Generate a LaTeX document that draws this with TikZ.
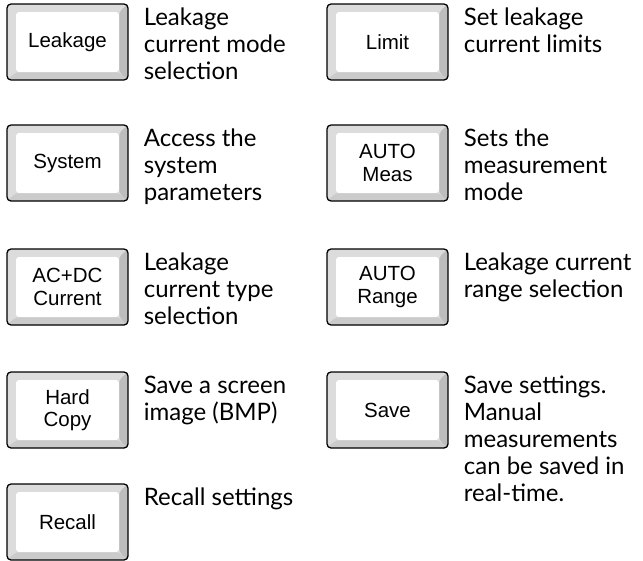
\documentclass[tikz,border=0pt]{standalone}
\usepackage{fontspec}
\setmainfont{Lato}
\newfontfamily\keyfont{Liberation Sans}
\usetikzlibrary{positioning,calc}
\definecolor{keytop}{HTML}{DCDCDC}
\definecolor{keyright}{HTML}{BDBDBD}
\definecolor{keybottom}{HTML}{CBCBCB}

\tikzset{
  keybtn/.style={rectangle,rounded corners=4pt,draw=black,line width=1.3pt,
    fill=keytop,minimum width=121pt,minimum height=76pt,inner sep=0pt,
    align=center,font=\keyfont\fontsize{20.5}{22.5}\selectfont,
    path picture={
      % right and bottom bevel, then the white key face
      \fill[keyright] (path picture bounding box.north east) -- (path picture bounding box.south east)
        -- ([shift={(-9pt,8pt)}]path picture bounding box.south east)
        -- ([shift={(-9pt,-8pt)}]path picture bounding box.north east) -- cycle;
      \fill[keybottom] (path picture bounding box.south west) -- (path picture bounding box.south east)
        -- ([shift={(-9pt,8pt)}]path picture bounding box.south east)
        -- ([shift={(9pt,8pt)}]path picture bounding box.south west) -- cycle;
      \fill[white,rounded corners=3pt] ([shift={(9pt,-8pt)}]path picture bounding box.north west)
        rectangle ([shift={(-9pt,8pt)}]path picture bounding box.south east);
    }},
  keydesc/.style={anchor=north west,inner sep=0pt,align=left,
    font=\fontsize{24}{27}\selectfont}
}

\begin{document}
\begin{tikzpicture}[x=1pt,y=-1pt]
\useasboundingbox (0,0) rectangle (643,560);
% left column of keys
\foreach \n/\yy/\lab/\desc in {leakage/4/Leakage/{Leakage\\current mode\\selection},
  system/125/System/{Access the\\system\\parameters},
  acdc/249/{AC+DC\\Current}/{Leakage\\current type\\selection},
  hardcopy/372/{Hard\\Copy}/{Save a screen\\image (BMP)},
  recall/484/Recall/{Recall settings}}{
  \node[keybtn] (\n) at (67.5,\yy+38) {\lab};
  \node[keydesc] (\n-txt) at ([xshift=15pt,yshift=-3.1pt]\n.north east) {\strut\desc};
}
% right column of keys
\foreach \n/\yy/\lab/\desc in {limit/4/Limit/{Set leakage\\current limits},
  automeas/125/{AUTO\\Meas}/{Sets the\\measurement\\mode},
  autorange/249/{AUTO\\Range}/{Leakage current\\range selection},
  save/372/Save/{Save settings.\\Manual\\measurements\\can be saved in\\real-time.}}{
  \node[keybtn] (\n) at (387.5,\yy+38) {\lab};
  \node[keydesc] (\n-txt) at ([xshift=15pt,yshift=-3.1pt]\n.north east) {\strut\desc};
}
\end{tikzpicture}
\end{document}
